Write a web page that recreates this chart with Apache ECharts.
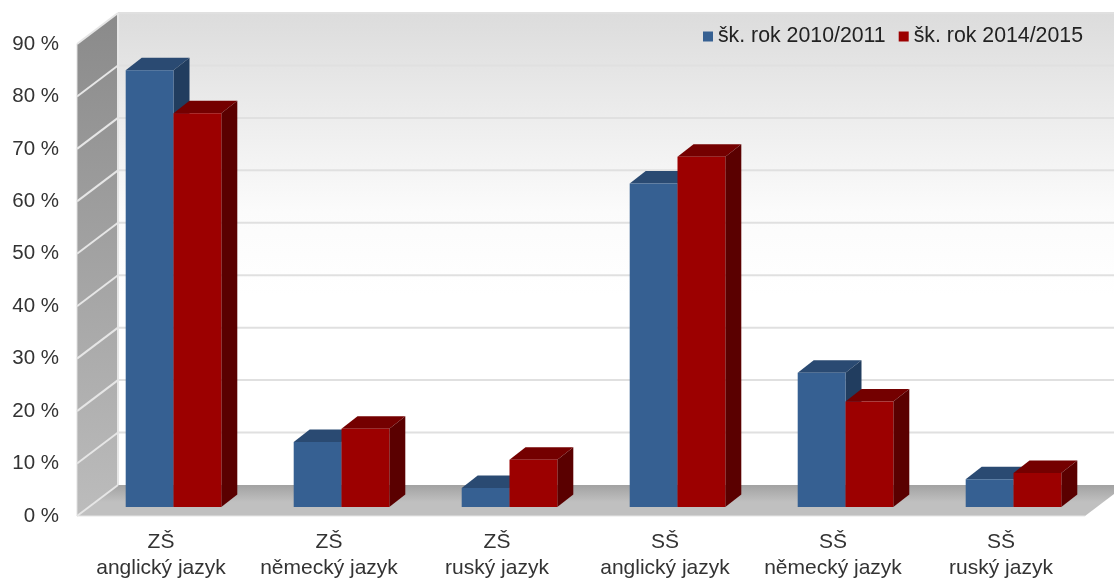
<!DOCTYPE html>
<html><head><meta charset="utf-8">
<style>html,body{margin:0;padding:0;background:#fff}#c{width:1114px;height:578px}</style>
<script src="https://cdn.jsdelivr.net/npm/echarts@6/dist/echarts.min.js"></script>
</head><body><div id="c"></div>
<script>
const categories = ['ZŠ\nanglický jazyk','ZŠ\nněmecký jazyk','ZŠ\nruský jazyk','SŠ\nanglický jazyk','SŠ\nněmecký jazyk','SŠ\nruský jazyk'];
const year1 = [83.3,12.4,3.6,61.7,25.6,5.3];
const year2 = [75.1,14.9,9.0,66.8,20.1,6.5];
const seriesNames = ['šk. rok 2010/2011','šk. rok 2014/2015'];
const yTicks = [0,10,20,30,40,50,60,70,80,90];

const WALL_DX = 41, WALL_DY = 31, BAR_DX = 12.5, BAR_DY = 9, DEPTH_DX = 16, DEPTH_DY = 12.5, BAR_W = 47.8;
const blue = {front:'#366092', top:'#2a4a72', side:'#213d5f'};
const red = {front:'#9c0000', top:'#740000', side:'#5a0000'};
const FONT = '"Liberation Sans", Arial, sans-serif';

function poly(points, fill){ return {type:'polygon', shape:{points}, style:{fill}}; }
function line(x1,y1,x2,y2,stroke,w){ return {type:'line', shape:{x1,y1,x2,y2}, style:{stroke,lineWidth:w}}; }
function grad(stops){ return new echarts.graphic.LinearGradient(0,0,0,1,stops.map(s=>({offset:s[0],color:s[1]}))); }

function renderWalls(params, api){
  const r = params.coordSys, L = r.x, R = r.x + r.width, T = r.y, B = r.y + r.height;
  const kids = [
    poly([[L+WALL_DX,T-WALL_DY],[R+WALL_DX,T-WALL_DY],[R+WALL_DX,B-WALL_DY],[L+WALL_DX,B-WALL_DY]],
      grad([[0,'#dcdcdc'],[0.2,'#ebebeb'],[0.42,'#fbfbfb'],[0.6,'#ffffff'],[1,'#ffffff']])),
    poly([[L,T],[L+WALL_DX,T-WALL_DY],[L+WALL_DX,B-WALL_DY],[L,B]],
      grad([[0,'#8a8a8a'],[1,'#bcbcbc']])),
    poly([[L,B],[L+WALL_DX,B-WALL_DY],[R+WALL_DX,B-WALL_DY],[R,B]],
      grad([[0,'#a2a2a2'],[0.55,'#c0c0c0'],[1,'#c0c0c0']]))
  ];
  yTicks.forEach(t => {
    const y = api.coord([0,t])[1];
    if (t > 0) kids.push(line(L+WALL_DX,y-WALL_DY,R+WALL_DX,y-WALL_DY,'#e0e0e0',2));
    kids.push(line(L,y,L+WALL_DX,y-WALL_DY,'#e6e6e6',2));
  });
  kids.push(line(L+WALL_DX,T-WALL_DY,L+WALL_DX,B-WALL_DY,'#e6e6e6',2));
  kids.push(line(L,T,L,B,'#e0e0e0',1));
  kids.push(line(L,B,R,B,'#e6e6e6',1));
  return {type:'group', children:kids};
}

function makeBar(colors, side){
  return function(params, api){
    const base = api.coord([api.value(0),0]);
    const top = api.coord([api.value(0),api.value(1)]);
    const cx = base[0] + BAR_DX;
    const x0 = side < 0 ? cx - BAR_W : cx, x1 = x0 + BAR_W;
    const yb = base[1] - BAR_DY, yt = top[1] - BAR_DY;
    return {type:'group', children:[
      poly([[x0,yt],[x0+DEPTH_DX,yt-DEPTH_DY],[x1+DEPTH_DX,yt-DEPTH_DY],[x1,yt]], colors.top),
      poly([[x1,yt],[x1+DEPTH_DX,yt-DEPTH_DY],[x1+DEPTH_DX,yb-DEPTH_DY],[x1,yb]], colors.side),
      poly([[x0,yt],[x1,yt],[x1,yb],[x0,yb]], colors.front)
    ]};
  };
}

const chart = echarts.init(document.getElementById('c'), null, {renderer:'canvas'});
chart.setOption({
  animation:false,
  backgroundColor:'#fff',
  textStyle:{fontFamily:FONT},
  legend:{
    data:[{name:seriesNames[0],itemStyle:{color:blue.front}},{name:seriesNames[1],itemStyle:{color:red.front}}],
    icon:'rect', itemWidth:10, itemHeight:10, itemGap:13,
    right:26, top:21, selectedMode:false,
    textStyle:{fontSize:21.3, color:'#222', fontFamily:FONT}
  },
  grid:{left:77, right:29, top:44, bottom:62, outerBoundsMode:'none'},
  xAxis:{type:'category', data:categories,
    axisLine:{show:false}, axisTick:{show:false}, splitLine:{show:false},
    axisLabel:{fontSize:21, color:'#333', lineHeight:26, margin:13, interval:0, fontFamily:FONT}},
  yAxis:{type:'value', min:0, max:90, interval:10,
    axisLine:{show:false}, axisTick:{show:false}, splitLine:{show:false},
    axisLabel:{formatter:'{value} %', fontSize:20.5, color:'#333', margin:18, fontFamily:FONT}},
  series:[
    {type:'custom', name:'walls', silent:true, z:1, data:[[0,0]], renderItem:renderWalls, clip:false, tooltip:{show:false}},
    {type:'custom', name:seriesNames[0], z:2, data:year1.map((v,i)=>[i,v]), encode:{x:0,y:1}, renderItem:makeBar(blue,-1), itemStyle:{color:blue.front}},
    {type:'custom', name:seriesNames[1], z:3, data:year2.map((v,i)=>[i,v]), encode:{x:0,y:1}, renderItem:makeBar(red,1), itemStyle:{color:red.front}}
  ]
});
</script></body></html>
